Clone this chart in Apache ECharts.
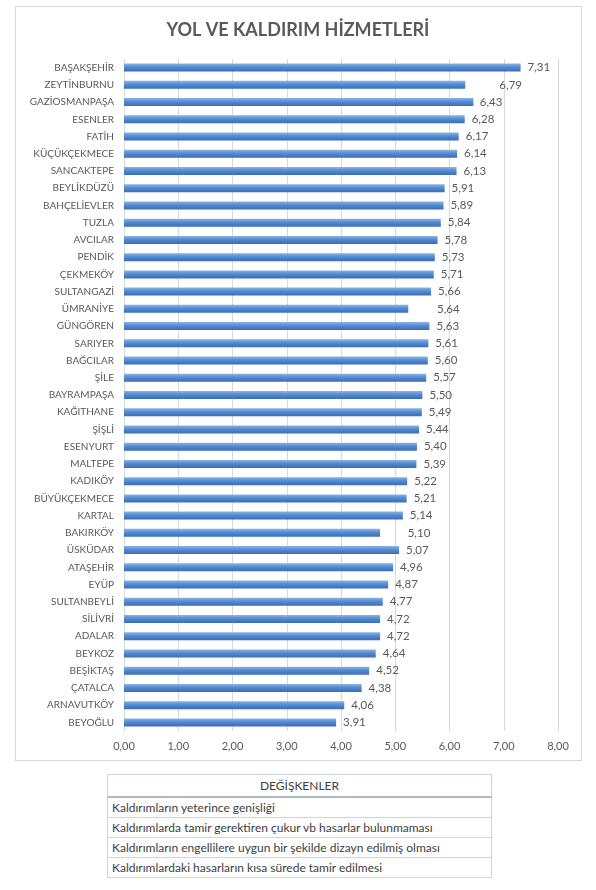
<!DOCTYPE html>
<html>
<head>
<meta charset="utf-8">
<script src="https://cdn.jsdelivr.net/npm/echarts@6/dist/echarts.min.js"></script>
<style>
  html, body { margin:0; padding:0; background:#fff; }
  #frame { position:absolute; left:15px; top:6px; width:567px; height:755px; border:1px solid #D9D9D9; box-sizing:border-box; }
  #chart { position:absolute; left:0; top:0; width:596px; height:770px; }
  #tbl { position:absolute; left:107px; top:774px; width:385px; border-collapse:collapse;
         font-family:Lato, "Open Sans", sans-serif; font-size:12px; color:#404040; }
  #tbl td { border:1px solid #C9D5DF; padding:0 4px; height:19px; line-height:19px; white-space:nowrap; }
  #tbl tr.h td { text-align:center; height:21px; border-bottom:2px solid #A9BBCB; }
</style>
</head>
<body>
<div id="frame"></div>
<div id="chart"></div>
<table id="tbl"></table>
<script>
const categories = ["BAŞAKŞEHİR","ZEYTİNBURNU","GAZİOSMANPAŞA","ESENLER","FATİH","KÜÇÜKÇEKMECE","SANCAKTEPE","BEYLİKDÜZÜ","BAHÇELİEVLER","TUZLA","AVCILAR","PENDİK","ÇEKMEKÖY","SULTANGAZİ","ÜMRANİYE","GÜNGÖREN","SARIYER","BAĞCILAR","ŞİLE","BAYRAMPAŞA","KAĞITHANE","ŞİŞLİ","ESENYURT","MALTEPE","KADIKÖY","BÜYÜKÇEKMECE","KARTAL","BAKIRKÖY","ÜSKÜDAR","ATAŞEHİR","EYÜP","SULTANBEYLİ","SİLİVRİ","ADALAR","BEYKOZ","BEŞİKTAŞ","ÇATALCA","ARNAVUTKÖY","BEYOĞLU"];
// bar lengths as drawn
const barValues = [7.31,6.29,6.44,6.28,6.17,6.14,6.13,5.91,5.89,5.84,5.78,5.73,5.71,5.66,5.24,5.63,5.61,5.60,5.57,5.50,5.49,5.44,5.40,5.39,5.22,5.21,5.14,4.72,5.07,4.96,4.87,4.77,4.72,4.72,4.64,4.52,4.38,4.06,3.91];
// values printed as labels
const labelValues = [7.31,6.79,6.43,6.28,6.17,6.14,6.13,5.91,5.89,5.84,5.78,5.73,5.71,5.66,5.64,5.63,5.61,5.60,5.57,5.50,5.49,5.44,5.40,5.39,5.22,5.21,5.14,5.10,5.07,4.96,4.87,4.77,4.72,4.72,4.64,4.52,4.38,4.06,3.91];
const xTicks = [0,1,2,3,4,5,6,7,8];
const title = "YOL VE KALDIRIM HİZMETLERİ";
const tableHeader = "DEĞİŞKENLER";
const tableRows = ["Kaldırımların yeterince genişliği","Kaldırımlarda tamir gerektiren çukur vb hasarlar bulunmaması","Kaldırımların engellilere uygun bir şekilde dizayn edilmiş olması","Kaldırımlardaki hasarların kısa sürede tamir edilmesi"];

const fmt = v => v.toFixed(2).replace('.', ',');
const FONT = 'Lato, "Open Sans", sans-serif';

const tbl = document.getElementById('tbl');
let html = '<tr class="h"><td>' + tableHeader + '</td></tr>';
tableRows.forEach(r => { html += '<tr><td>' + r + '</td></tr>'; });
tbl.innerHTML = html;

const chart = echarts.init(document.getElementById('chart'));
chart.setOption({
  animation: false,
  backgroundColor: 'transparent',
  title: {
    text: title, left: 'center', top: 16,
    textStyle: { fontFamily: FONT, fontSize: 18, fontWeight: 'bold', color: '#595959' }
  },
  grid: { left: 124, right: 38, top: 59, bottom: 39, containLabel: false },
  xAxis: {
    type: 'value', min: xTicks[0], max: xTicks[xTicks.length - 1], interval: 1,
    axisLine: { show: false }, axisTick: { show: false },
    splitLine: { show: true, lineStyle: { color: '#D9D9D9', width: 1 } },
    axisLabel: { formatter: v => fmt(v), color: '#595959', fontFamily: FONT, fontSize: 11, margin: 10 }
  },
  yAxis: {
    type: 'category', data: categories, inverse: true,
    axisLine: { show: false }, axisTick: { show: false },
    axisLabel: { color: '#595959', fontFamily: FONT, fontSize: 10, margin: 10 }
  },
  series: [
    {
      type: 'bar', data: barValues, barWidth: 8,
      itemStyle: {
        color: new echarts.graphic.LinearGradient(0, 0, 0, 1, [
          { offset: 0, color: '#8DB4E3' },
          { offset: 0.45, color: '#538BD3' },
          { offset: 1, color: '#3A6DB4' }
        ])
      }
    },
    {
      type: 'bar', data: labelValues, barWidth: 8, barGap: '-100%',
      itemStyle: { color: 'rgba(0,0,0,0)' }, silent: true,
      label: {
        show: true, position: 'right', distance: 7,
        formatter: p => fmt(p.value),
        color: '#595959', fontFamily: FONT, fontSize: 11.5
      }
    }
  ]
});
</script>
</body>
</html>
